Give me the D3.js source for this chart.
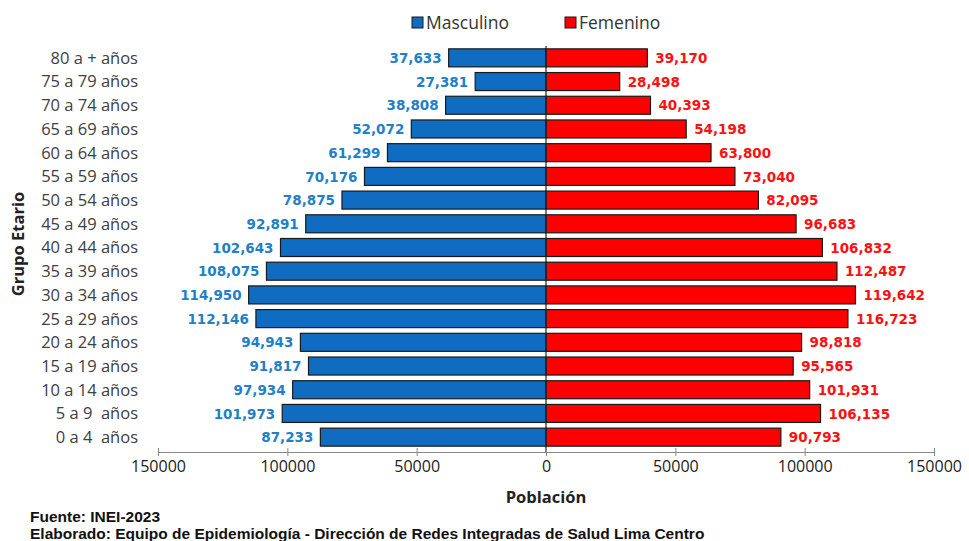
<!DOCTYPE html>
<html>
<head>
<meta charset="utf-8">
<script src="https://cdn.jsdelivr.net/npm/d3@7"></script>
<style>
  html, body { margin: 0; padding: 0; background: #fff; }
  svg { display: block; }
  text { white-space: pre; }
</style>
</head>
<body>
<svg id="chart" width="969" height="541"></svg>
<script>
// Age groups, bottom to top
const grupos = ["0 a 4  años", "5 a 9  años", "10 a 14 años", "15 a 19 años", "20 a 24 años",
  "25 a 29 años", "30 a 34 años", "35 a 39 años", "40 a 44 años", "45 a 49 años",
  "50 a 54 años", "55 a 59 años", "60 a 64 años", "65 a 69 años", "70 a 74 años",
  "75 a 79 años", "80 a + años"];
const masculino = [87233, 101973, 97934, 91817, 94943, 112146, 114950, 108075, 102643, 92891,
  78875, 70176, 61299, 52072, 38808, 27381, 37633];
const femenino = [90793, 106135, 101931, 95565, 98818, 116723, 119642, 112487, 106832, 96683,
  82095, 73040, 63800, 54198, 40393, 28498, 39170];
const ticksX = [-150000, -100000, -50000, 0, 50000, 100000, 150000];

const svg = d3.select("#chart");
const fontMain = "'Open Sans', 'Noto Sans', sans-serif";
const fontValue = "'DejaVu Sans', sans-serif";
const fontNote = "'Liberation Sans', Arial, sans-serif";

const x = d3.scaleLinear().domain([-150000, 150000]).range([158, 934]);
const y = d3.scaleBand().domain(grupos.slice().reverse()).range([46, 449]).paddingInner(0.24).paddingOuter(0.12);

const rows = grupos.map((g, i) => ({ g, m: masculino[i], f: femenino[i] }));

// Bars
svg.append("g").selectAll("rect").data(rows).join("rect")
  .attr("x", d => x(-d.m)).attr("y", d => y(d.g))
  .attr("width", d => x(0) - x(-d.m)).attr("height", y.bandwidth())
  .attr("fill", "#0f6cc0").attr("stroke", "#1a1a1a").attr("stroke-width", 1.2);
svg.append("g").selectAll("rect").data(rows).join("rect")
  .attr("x", x(0)).attr("y", d => y(d.g))
  .attr("width", d => x(d.f) - x(0)).attr("height", y.bandwidth())
  .attr("fill", "#ff0000").attr("stroke", "#1a1a1a").attr("stroke-width", 1.2);

// Centre line
svg.append("line").attr("x1", x(0)).attr("x2", x(0)).attr("y1", 46).attr("y2", 452)
  .attr("stroke", "#222").attr("stroke-width", 1.2);

// Value labels
const fmt = d3.format(",");
svg.append("g").selectAll("text").data(rows).join("text")
  .attr("x", d => x(-d.m) - 7).attr("y", d => y(d.g) + y.bandwidth() / 2)
  .attr("dy", "0.38em").attr("text-anchor", "end")
  .attr("font-family", fontValue).attr("font-weight", "bold").attr("font-size", 13.5)
  .attr("fill", "#1f80c8").text(d => fmt(d.m));
svg.append("g").selectAll("text").data(rows).join("text")
  .attr("x", d => x(d.f) + 8).attr("y", d => y(d.g) + y.bandwidth() / 2)
  .attr("dy", "0.38em").attr("text-anchor", "start")
  .attr("font-family", fontValue).attr("font-weight", "bold").attr("font-size", 13.5)
  .attr("fill", "#ff1010").text(d => fmt(d.f));

// Category labels
svg.append("g").selectAll("text").data(rows).join("text")
  .attr("x", 138).attr("y", d => y(d.g) + y.bandwidth() / 2)
  .attr("dy", "0.36em").attr("text-anchor", "end")
  .attr("font-family", fontMain).attr("font-size", 16.5)
  .attr("fill", "#404040").text(d => d.g);

// X axis
const axisY = 452;
const xAxis = svg.append("g").attr("transform", `translate(0,${axisY})`)
  .call(d3.axisBottom(x).tickValues(ticksX).tickFormat(d => Math.abs(d)).tickSizeInner(5).tickSizeOuter(0));
xAxis.select(".domain").attr("stroke", "#888");
xAxis.selectAll(".tick line").attr("stroke", "#888").attr("y1", -4).attr("y2", 4);
xAxis.selectAll(".tick text").attr("y", 9).attr("dy", "0.71em")
  .attr("font-family", fontMain).attr("font-size", 16).attr("fill", "#222");

// Axis titles
svg.append("text").attr("x", x(0)).attr("y", 503).attr("text-anchor", "middle")
  .attr("font-family", fontMain).attr("font-weight", "bold").attr("font-size", 16.5)
  .attr("fill", "#222").text("Población");
svg.append("text").attr("transform", "translate(24,244) rotate(-90)").attr("text-anchor", "middle")
  .attr("font-family", fontMain).attr("font-weight", "bold").attr("font-size", 16.5)
  .attr("fill", "#222").text("Grupo Etario");

// Legend
const legend = [
  { label: "Masculino", color: "#0f6cc0", x: 412 },
  { label: "Femenino", color: "#ff0000", x: 565 }
];
const lg = svg.append("g").selectAll("g").data(legend).join("g")
  .attr("transform", d => `translate(${d.x},17)`);
lg.append("rect").attr("width", 11).attr("height", 11)
  .attr("fill", d => d.color).attr("stroke", "#1a1a1a").attr("stroke-width", 1);
lg.append("text").attr("x", 14).attr("y", 6).attr("dy", "0.36em")
  .attr("font-family", fontMain).attr("font-size", 17.5).attr("fill", "#333").text(d => d.label);

// Source notes
svg.append("text").attr("x", 30).attr("y", 522)
  .attr("font-family", fontNote).attr("font-weight", "bold").attr("font-size", 15.5)
  .attr("fill", "#111").text("Fuente: INEI-2023");
svg.append("text").attr("x", 30).attr("y", 539)
  .attr("font-family", fontNote).attr("font-weight", "bold").attr("font-size", 15.5)
  .attr("fill", "#111").text("Elaborado: Equipo de Epidemiología - Dirección de Redes Integradas de Salud Lima Centro");
</script>
</body>
</html>
